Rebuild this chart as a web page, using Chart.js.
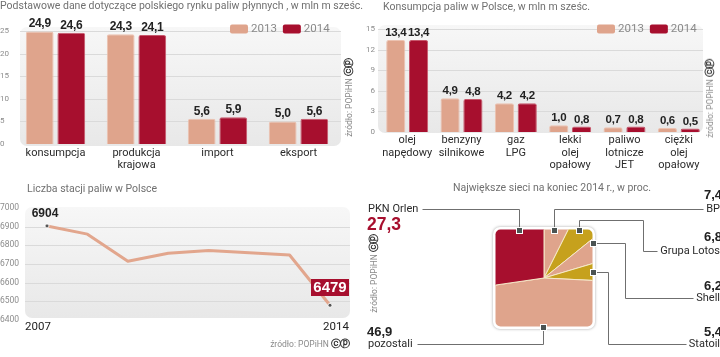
<!DOCTYPE html>
<html><head><meta charset="utf-8">
<script src="https://cdn.jsdelivr.net/npm/chart.js@4.4.1/dist/chart.umd.min.js"></script>
<style>
html,body{margin:0;padding:0;background:#fff;}
#wrap{position:relative;width:720px;height:357px;overflow:hidden;font-family:Roboto,"DejaVu Sans",sans-serif;}
.pane{position:absolute;}
.pane canvas{display:block;}
.ttl{position:absolute;white-space:nowrap;color:#707070;font-size:10.5px;line-height:12px;z-index:3;}
.src{position:absolute;white-space:nowrap;color:#8a8a8a;font-size:8.5px;line-height:11px;z-index:3;}
.src b{font-family:"DejaVu Sans",sans-serif;color:#333;font-size:10px;font-weight:bold;letter-spacing:-1.5px;}
.vert{writing-mode:vertical-rl;text-orientation:sideways;transform:rotate(180deg);}
</style></head>
<body><div id="wrap">
<div class="pane" style="left:0;top:0"><canvas id="c1" width="360" height="180"></canvas></div>
<div class="pane" style="left:360px;top:0"><canvas id="c2" width="360" height="180"></canvas></div>
<div class="pane" style="left:0;top:180px"><canvas id="c3" width="360" height="177"></canvas></div>
<div class="pane" style="left:360px;top:180px"><canvas id="c4" width="360" height="177"></canvas></div>
<div class="ttl" style="left:0;top:0">Podstawowe dane dotyczące polskiego rynku paliw płynnych , w mln m sześc.</div>
<div class="ttl" style="left:383px;top:1px">Konsumpcja paliw w Polsce, w mln m sześc.</div>
<div class="ttl" style="left:27px;top:183px">Liczba stacji paliw w Polsce</div>
<div class="ttl" style="left:360px;width:384px;text-align:center;top:182px">Największe sieci na koniec 2014 r., w proc.</div>
<div class="src vert" style="left:343px;bottom:220px">źródło: POPiHN <b>ⓒⓟ</b></div>
<div class="src vert" style="left:704px;bottom:219px">źródło: POPiHN <b>ⓒⓟ</b></div>
<div class="src" style="right:372px;top:338px">źródło: POPiHN <b>ⓒⓟ</b></div>
<div class="src vert" style="left:368px;bottom:44px">źródło: POPiHN <b>ⓒⓟ</b></div>
</div>
<script>
// ---------- data ----------
const seriesLabels = ['2013', '2014'];
const basicCategories = [['konsumpcja'], ['produkcja', 'krajowa'], ['import'], ['eksport']];
const basic2013 = [24.9, 24.3, 5.6, 5.0];
const basic2014 = [24.6, 24.1, 5.9, 5.6];
const basicTickStep = 5;
const fuelCategories = [['olej', 'napędowy'], ['benzyny', 'silnikowe'], ['gaz', 'LPG'], ['lekki', 'olej', 'opałowy'], ['paliwo', 'lotnicze', 'JET'], ['ciężki', 'olej', 'opałowy']];
const fuel2013 = [13.4, 4.9, 4.2, 1.0, 0.7, 0.6];
const fuel2014 = [13.4, 4.8, 4.2, 0.8, 0.8, 0.5];
const fuelTickStep = 3;
const stationYears = ['2007', '2008', '2009', '2010', '2011', '2012', '2013', '2014'];
const stationCounts = [6904, 6860, 6715, 6758, 6772, 6760, 6748, 6479];
const stationTickStep = 100;
const networkNames = ['BP', 'Grupa Lotos', 'Shell', 'Statoil', 'pozostali', 'PKN Orlen'];
const networkShares = [7.4, 6.8, 6.2, 5.4, 46.9, 27.3];

// ---------- styles ----------
Chart.defaults.font.family = 'Roboto, "DejaVu Sans", sans-serif';
Chart.defaults.animation = false;
Chart.defaults.responsive = false;
Chart.defaults.plugins.legend.display = false;
Chart.defaults.plugins.tooltip.enabled = false;
const SALMON = '#dfa48c', RED = '#a70f2e', GOLD = '#c6a11d';
const NUMFONT = '"Liberation Sans", Arimo, Arial, sans-serif';
const fmt = v => v.toFixed(1).replace('.', ',');

function rr(ctx, x, y, w, h, r) {
  ctx.beginPath(); ctx.moveTo(x + r, y);
  ctx.arcTo(x + w, y, x + w, y + h, r); ctx.arcTo(x + w, y + h, x, y + h, r);
  ctx.arcTo(x, y + h, x, y, r); ctx.arcTo(x, y, x + w, y, r); ctx.closePath();
}
function panelBg(ext) {
  return { id: 'panelBg', beforeDatasetsDraw(chart) {
    const { ctx, chartArea: a } = chart; const ys = chart.scales.y;
    const x0 = a.left + ext.l, x1 = a.right + ext.r, y0 = a.top + ext.t, y1 = a.bottom + ext.b;
    ctx.save();
    const g = ctx.createLinearGradient(0, y0, 0, y1);
    g.addColorStop(0, '#f7f7f7'); g.addColorStop(1, '#e8e8e8');
    rr(ctx, x0, y0, x1 - x0, y1 - y0, 7); ctx.fillStyle = g; ctx.fill();
    ctx.strokeStyle = '#dadada'; ctx.lineWidth = 1;
    ys.ticks.forEach(t => {
      if (t.value <= ys.min) return;
      const py = Math.round(ys.getPixelForValue(t.value)) + 0.5;
      if (py < y0 + 2) return;
      ctx.beginPath(); ctx.moveTo(x0, py); ctx.lineTo(x1, py); ctx.stroke();
    });
    ctx.restore();
  } };
}
function barValues(size) {
  return { id: 'barValues', afterDatasetsDraw(chart) {
    const ctx = chart.ctx; ctx.save();
    ctx.font = 'bold ' + size + 'px ' + NUMFONT; ctx.fillStyle = '#222'; ctx.textAlign = 'center'; ctx.textBaseline = 'alphabetic';
    if ('letterSpacing' in ctx) ctx.letterSpacing = '-0.3px';
    chart.data.datasets.forEach((ds, i) => {
      chart.getDatasetMeta(i).data.forEach((bar, j) => ctx.fillText(fmt(ds.data[j]), bar.x, bar.y - 4));
    });
    ctx.restore();
  } };
}
function legendAt(dx, dy) {
  return { id: 'legendAt', afterDraw(chart) {
    const ctx = chart.ctx, a = chart.chartArea; let x = a.right + dx; const yc = a.top + dy;
    ctx.save(); ctx.font = '11.5px Roboto'; ctx.textBaseline = 'middle'; ctx.textAlign = 'left';
    chart.data.datasets.forEach(ds => {
      rr(ctx, x, yc - 4.5, 18, 9, 2); ctx.fillStyle = ds.backgroundColor; ctx.fill();
      x += 21; ctx.fillStyle = '#8a8a8a'; ctx.fillText(ds.label, x, yc + 0.5);
      x += ctx.measureText(ds.label).width + 6;
    });
    ctx.restore();
  } };
}
function barDatasets(d13, d14, cat, bar) {
  return [
    { label: seriesLabels[0], data: d13, backgroundColor: SALMON, borderColor: '#ecc2b1', borderWidth: 1, borderRadius: 2, categoryPercentage: cat, barPercentage: bar },
    { label: seriesLabels[1], data: d14, backgroundColor: RED, borderColor: '#c7576b', borderWidth: 1, borderRadius: 2, categoryPercentage: cat, barPercentage: bar }
  ];
}
const plainTick = v => String(v);

// ---------- panel 1 ----------
new Chart(document.getElementById('c1'), {
  type: 'bar',
  data: { labels: basicCategories, datasets: barDatasets(basic2013, basic2014, 0.78, 0.88) },
  options: {
    layout: { padding: { top: 31, right: 21, left: 0, bottom: 0 } },
    scales: {
      x: { grid: { display: false, drawTicks: false }, border: { display: false },
           ticks: { padding: 3, color: '#2b2b2b', font: { size: 11, lineHeight: 1.1 }, maxRotation: 0, autoSkip: false },
           afterFit: s => { s.height = 36; } },
      y: { min: 0, max: 25, grid: { display: false, drawTicks: false }, border: { display: false },
           ticks: { stepSize: basicTickStep, callback: plainTick, crossAlign: 'far', padding: 0, color: '#8c8c8c', font: { size: 8 } },
           afterFit: s => { s.width = 15; } }
    }
  },
  plugins: [panelBg({ l: 5, r: 2, t: -4, b: 2 }), barValues(12), legendAt(-109, -2)]
});

// ---------- panel 2 ----------
new Chart(document.getElementById('c2'), {
  type: 'bar',
  data: { labels: fuelCategories, datasets: barDatasets(fuel2013, fuel2014, 0.84, 0.84) },
  options: {
    layout: { padding: { top: 29, right: 14, left: 0, bottom: 0 } },
    scales: {
      x: { grid: { display: false, drawTicks: false }, border: { display: false },
           ticks: { padding: 2.5, color: '#2b2b2b', font: { size: 11, lineHeight: 1.12 }, maxRotation: 0, autoSkip: false },
           afterFit: s => { s.height = 48; } },
      y: { min: 0, max: 15, grid: { display: false, drawTicks: false }, border: { display: false },
           ticks: { stepSize: fuelTickStep, callback: plainTick, crossAlign: 'near', padding: 5, color: '#8c8c8c', font: { size: 8 } },
           afterFit: s => { s.width = 20; } }
    }
  },
  plugins: [panelBg({ l: -2, r: -3, t: -4, b: 1 }), barValues(11.5), legendAt(-109, 0)]
});

// ---------- panel 3 ----------
const stationLabels = { id: 'stationLabels', afterDatasetsDraw(chart) {
  const ctx = chart.ctx; const pts = chart.getDatasetMeta(0).data; const n = pts.length;
  const first = pts[0], last = pts[n - 1]; const a = chart.chartArea;
  ctx.save();
  ctx.textAlign = 'center'; ctx.textBaseline = 'middle';
  ctx.font = 'bold 12px ' + NUMFONT; ctx.fillStyle = '#222';
  ctx.fillText(String(stationCounts[0]), first.x - 2, first.y - 12);
  ctx.font = 'bold 15px ' + NUMFONT;
  const t = String(stationCounts[n - 1]); const w = ctx.measureText(t).width + 5;
  ctx.fillStyle = RED; ctx.fillRect(Math.round(last.x - w / 2), Math.round(last.y - 18 - 8.5), Math.round(w), 17);
  ctx.fillStyle = '#fff'; ctx.fillText(t, last.x, last.y - 18 + 0.5);
  ctx.font = '11.5px Roboto'; ctx.fillStyle = '#222';
  ctx.fillText(stationYears[0], first.x - 9, a.bottom + 7);
  ctx.fillText(stationYears[n - 1], last.x + 6, a.bottom + 7);
  ctx.restore();
} };
new Chart(document.getElementById('c3'), {
  type: 'line',
  data: { labels: stationYears, datasets: [{
    data: stationCounts, borderColor: '#e2a68d', borderWidth: 3, tension: 0, borderJoinStyle: 'round',
    pointRadius: c => (c.dataIndex === 0 || c.dataIndex === stationCounts.length - 1) ? 2 : 0,
    pointBackgroundColor: '#555', pointBorderColor: 'rgba(255,255,255,0.85)', pointBorderWidth: 1
  }] },
  options: {
    layout: { padding: { top: 28, right: 30, left: 0, bottom: 37 } },
    scales: {
      x: { display: false, offset: false },
      y: { min: 6400, max: 7000, grid: { display: false, drawTicks: false }, border: { display: false },
           ticks: { stepSize: stationTickStep, callback: plainTick, crossAlign: 'far', padding: 0, color: '#8c8c8c', font: { size: 8.5 } },
           afterFit: s => { s.width = 47; } }
    }
  },
  plugins: [panelBg({ l: -22, r: 20, t: -1, b: -2 }), stationLabels]
});

// ---------- panel 4 ----------
const SQ_HALF = 48.5;
const pieDecor = {
  id: 'pieDecor',
  beforeDatasetsDraw(chart) {
    const ctx = chart.ctx; const arc = chart.getDatasetMeta(0).data[0];
    const cx = arc.x, cy = arc.y, h = SQ_HALF;
    ctx.save(); ctx.shadowColor = 'rgba(0,0,0,0.35)'; ctx.shadowBlur = 3;
    rr(ctx, cx - h - 2.5, cy - h - 2.5, 2 * h + 5, 2 * h + 5, 7); ctx.fillStyle = '#fff'; ctx.fill(); ctx.restore();
    ctx.save(); rr(ctx, cx - h, cy - h, 2 * h, 2 * h, 5); ctx.clip();
  },
  afterDatasetsDraw(chart) {
    const ctx = chart.ctx; ctx.restore();
    const arc = chart.getDatasetMeta(0).data[0];
    const cx = arc.x, cy = arc.y, h = SQ_HALF, W = chart.width;
    ctx.save();
    const nameFont = '11px Roboto', valFont = 'bold 13px ' + NUMFONT;
    ctx.textBaseline = 'middle';
    const names = chart.data.labels, vals = chart.data.datasets[0].data;
    const rightRows = [[0, 29, 15], [1, 71, 57], [2, 118, 106], [3, 164, 152]];
    const starts = {};
    rightRows.forEach(([i, ny, vy]) => {
      ctx.textAlign = 'right'; ctx.font = nameFont; ctx.fillStyle = '#2a2a2a';
      ctx.fillText(names[i], W, ny);
      starts[i] = W - ctx.measureText(names[i]).width;
      ctx.font = valFont; ctx.fillStyle = '#222'; ctx.fillText(fmt(vals[i]), W + 2, vy);
    });
    ctx.textAlign = 'left'; ctx.font = nameFont; ctx.fillStyle = '#2a2a2a';
    ctx.fillText(names[5], 8, 29); const endOrlen = 8 + ctx.measureText(names[5]).width;
    ctx.fillText(names[4], 8, 164); const endPoz = 8 + ctx.measureText(names[4]).width;
    ctx.font = 'bold 17.5px ' + NUMFONT; ctx.fillStyle = RED; ctx.fillText(fmt(vals[5]), 7, 45);
    ctx.font = valFont; ctx.fillStyle = '#222'; ctx.fillText(fmt(vals[4]), 7, 152);

    const paths = [
      [[cx + 10, cy - h], [cx + 10, 29], [starts[0] - 3, 29]],
      [[cx + 35, cy - h], [cx + 35, 40], [283, 40], [283, 71], [starts[1] - 3, 71]],
      [[cx + h, cy - 35], [265, cy - 35], [265, 118], [starts[2] - 3, 118]],
      [[cx + h, cy - 6], [248, cy - 6], [248, 164], [starts[3] - 3, 164]],
      [[cx - 1, cy + h], [cx - 1, 164], [endPoz + 4, 164]],
      [[cx - 25, cy - h], [cx - 25, 29], [endOrlen + 4, 29]]
    ];
    ctx.strokeStyle = '#6f6f6f'; ctx.lineWidth = 1;
    paths.forEach(p => {
      ctx.beginPath();
      p.forEach(([x, y], k) => { const px = Math.round(x) + 0.5, py = Math.round(y) + 0.5; k ? ctx.lineTo(px, py) : ctx.moveTo(px, py); });
      ctx.stroke();
    });
    paths.forEach(p => {
      const [x, y] = p[0]; const px = Math.round(x), py = Math.round(y);
      ctx.fillStyle = '#4b5352'; ctx.fillRect(px - 2.5, py - 2.5, 6, 6);
      ctx.strokeStyle = '#fff'; ctx.strokeRect(px - 2.5, py - 2.5, 6, 6);
    });
    ctx.restore();
  }
};
new Chart(document.getElementById('c4'), {
  type: 'pie',
  data: { labels: networkNames, datasets: [{
    data: networkShares, backgroundColor: [SALMON, GOLD, SALMON, GOLD, SALMON, RED],
    borderColor: '#f5e8c8', borderWidth: 1
  }] },
  options: { layout: { padding: { left: 114, right: 106, top: 28, bottom: 9 } } },
  plugins: [pieDecor]
});
</script>
</body></html>
